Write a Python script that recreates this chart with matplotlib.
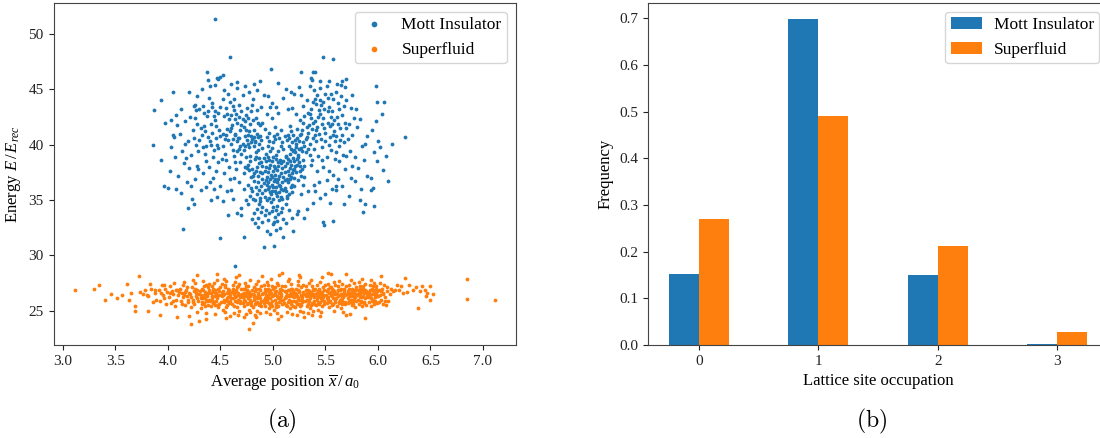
import matplotlib
matplotlib.use("Agg")
import matplotlib.pyplot as plt
import numpy as np

# ---------------- data ----------------
mott_points = [
    (4.45,51.4),(4.59,47.9),(4.98,46.85),(5.48,47.95),(5.57,47.7),(3.86,40.0),(3.87,43.1),(3.93,44.0),
    (3.93,38.6),(3.96,36.3),(4.0,36.1),(4.14,32.4),(4.19,34.3),(4.5,31.6),(4.72,31.65),(4.91,30.75),
    (5.01,30.85),(5.19,32.2),(5.1,31.7),(5.48,33.05),(5.49,32.7),(5.57,33.1),(5.86,33.9),(5.96,34.45),
    (6.26,40.7),(6.13,40.1),(6.1,36.7),(5.98,45.3),(5.99,43.9),(6.06,43.85),(6.04,42.8),(4.64,29.0),
    (4.37,46.6),(4.38,45.85),(4.4,45.3),(4.47,46.0),(4.5,46.1),(4.52,46.3),(4.48,45.9),(4.05,44.8),
    (4.03,42.2),(3.97,41.95),(4.05,40.9),(4.66,45.7),(4.66,45.15),(4.82,45.5),(4.85,44.9),(4.91,44.5),
    (5.12,45.05),(5.17,44.8),(5.27,46.6),(5.38,46.6),(5.4,46.6),(5.36,46.0),(5.37,45.85),(5.45,45.75),
    (5.53,45.8),(5.61,45.5),(5.7,45.9),(5.69,45.25),(5.65,45.4),(4.97,43.4),(5.03,43.45),(5.18,43.35),
    (4.25,43.5),(4.27,43.1),(4.33,43.5),(4.42,43.4),
    # core stem
    (4.85,34.2),(4.92,33.6),(4.98,34.8),(5.04,34.5),(5.08,33.9),(4.88,34.9),(5.12,34.6),(4.95,33.2),
    (5.02,33.5),(4.82,33.8),(5.06,35.0),(4.9,34.4),(5.15,34.1),(4.99,34.0),(5.1,33.3),(4.86,33.4),
    (4.94,35.0),(5.03,34.1),
    (4.78,35.4),(4.84,36.2),(4.9,35.6),(4.93,36.8),(4.96,35.2),(4.99,36.4),(5.02,35.8),(5.05,36.9),
    (5.08,35.3),(5.11,36.1),(5.14,36.6),(5.18,35.7),(4.87,35.9),(4.91,36.5),(4.95,36.0),(4.98,35.5),
    (5.01,36.7),(5.04,35.4),(5.07,36.3),(5.1,35.9),(4.82,36.7),(4.88,35.2),(4.97,36.9),(5.0,35.1),
    (5.06,35.7),(5.13,35.4),(5.16,36.9),(4.76,36.4),(4.92,35.3),(5.03,36.2),(4.94,36.4),(5.09,36.6),
    (4.86,36.6),(5.2,36.3),(4.8,35.8),(4.99,35.8),
    (4.72,37.4),(4.76,38.2),(4.8,37.8),(4.83,38.7),(4.86,37.2),(4.89,38.4),(4.92,37.6),(4.95,38.9),
    (4.98,37.3),(5.01,38.1),(5.04,37.7),(5.07,38.6),(5.1,37.1),(5.13,38.3),(5.16,37.9),(5.19,38.8),
    (5.22,37.5),(5.25,38.4),(5.28,37.8),(4.74,38.9),(4.79,37.1),(4.85,38.0),(4.91,38.8),(4.97,38.2),
    (5.03,38.7),(5.09,37.9),(5.15,37.3),(5.21,38.1),(4.88,37.5),(4.94,37.1),(5.0,37.6),(5.06,37.2),
    (5.12,38.9),(5.18,37.4),(5.24,38.9),(4.82,37.4),(4.9,38.1),(4.96,37.9),(5.02,37.3),(5.08,38.3),
    (5.14,37.6),(5.2,38.5),(4.77,37.7),(4.93,38.5),(5.05,38.4),(5.17,38.2),(5.27,37.2),(4.84,38.9),
    (4.99,38.5),(5.11,37.5),
    (4.62,39.5),(4.66,40.3),(4.7,39.2),(4.73,40.8),(4.77,39.8),(4.8,40.5),(4.84,39.3),(4.87,40.1),
    (4.9,39.7),(4.94,40.7),(4.97,39.4),(5.0,40.2),(5.03,39.1),(5.06,40.6),(5.1,39.6),(5.13,40.4),
    (5.16,39.2),(5.19,40.9),(5.22,39.8),(5.25,40.3),(5.28,39.4),(5.32,40.7),(4.64,40.9),(4.69,39.9),
    (4.75,40.4),(4.82,39.9),(4.88,40.8),(4.95,39.9),(5.01,40.8),(5.08,39.9),(5.14,40.9),(5.2,39.5),
    (5.26,40.9),(5.3,39.9),(5.18,40.2),(5.23,40.6),(4.78,39.0),(5.12,39.0),(5.24,39.1),
    (5.17,39.6),(5.21,39.3),(5.23,38.7),(5.19,37.7),(5.26,38.1),(5.15,40.6),(5.22,40.1),(5.27,39.7),
    (5.2,37.0),(5.18,36.4),(5.24,36.8),(5.13,36.9),
    (4.81,35.1),(4.87,34.6),(4.93,34.1),(4.96,33.8),(5.0,34.4),(5.05,33.7),(5.09,34.3),(5.13,35.2),
    (4.89,33.9),(5.01,33.0),(4.79,36.1),(4.85,35.5),(4.89,36.3),(4.92,35.9),(4.95,36.6),(4.97,35.7),
    (5.0,36.2),(5.03,35.6),(5.06,36.4),(5.09,35.1),(5.12,35.8),(5.15,35.5),(5.17,36.2),(4.83,35.0),
    (4.9,36.9),(5.04,36.6),(5.11,36.8),(4.96,36.2),(5.02,36.9),(5.08,36.0),
    (4.75,37.9),(4.78,38.5),(4.81,37.2),(4.84,37.6),(4.87,38.3),(4.9,37.4),(4.93,38.0),(4.96,38.6),
    (4.99,37.1),(5.02,37.9),(5.05,38.1),(5.08,37.4),(5.11,38.1),(5.14,38.7),(5.17,37.1),(5.2,37.8),
    (5.23,38.2),(5.26,37.6),(4.87,38.8),(5.0,38.9),(5.1,38.5),(4.95,37.5),(5.16,38.5),(5.29,38.6),
    (5.3,38.1),
    (4.68,40.6),(4.72,39.5),(4.76,40.1),(4.79,40.8),(4.83,40.3),(4.86,39.5),(4.89,40.4),(4.93,39.2),
    (4.96,40.3),(4.99,39.7),(5.02,40.5),(5.05,39.4),(5.09,40.2),(5.11,40.8),(5.15,39.9),(5.19,39.4),
    (5.21,40.4),(5.25,39.6),(5.29,40.2),(5.33,39.6),(4.71,40.1),(4.85,41.0),(5.04,41.0),(5.17,41.2),
    (5.27,41.0),
    # left upper lobe
    (4.22,39.1),(4.25,40.6),(4.28,41.9),(4.3,43.2),(4.33,39.8),(4.35,41.2),(4.37,42.6),(4.4,40.3),
    (4.42,43.8),(4.44,39.5),(4.46,41.7),(4.48,42.9),(4.5,40.8),(4.52,44.1),(4.54,39.2),(4.56,41.4),
    (4.58,42.3),(4.6,40.1),(4.62,43.5),(4.64,41.0),(4.66,42.0),(4.68,39.6),(4.7,43.0),(4.72,41.6),
    (4.74,42.7),(4.76,40.9),(4.78,41.9),(4.8,43.6),(4.82,41.3),(4.84,42.4),(4.86,40.7),(4.88,41.8),
    (4.27,40.0),(4.31,41.5),(4.34,42.9),(4.38,40.7),(4.41,41.9),(4.45,43.0),(4.47,40.0),(4.49,41.3),
    (4.53,42.6),(4.57,40.4),(4.59,43.9),(4.61,41.8),(4.63,39.0),(4.65,42.8),(4.67,40.6),(4.69,41.3),
    (4.71,42.3),(4.73,39.9),(4.75,43.3),(4.77,41.2),(4.79,40.2),(4.81,42.2),(4.83,40.2),(4.85,43.1),
    (4.9,42.0),(4.92,41.4),(4.94,42.8),(4.96,41.1),(4.99,42.4),(5.02,41.6),(5.05,42.9),(4.55,43.3),
    (4.51,38.7),(4.43,38.9),(4.36,38.5),(4.29,39.4),(4.24,41.3),(4.21,42.5),(4.26,43.6),(4.39,44.2),
    (4.57,44.6),(4.63,44.1),(4.71,44.5),(4.77,44.8),(4.68,43.6),(4.6,42.7),(4.52,41.0),(4.46,40.6),
    (4.32,40.9),(4.19,40.3),(4.17,38.8),(4.64,38.4),(4.58,38.0),(4.69,38.4),(4.73,38.0),
    (4.3,40.4),(4.34,41.7),(4.38,43.0),(4.42,41.1),(4.45,42.2),(4.48,39.7),(4.5,43.4),(4.54,40.5),
    (4.56,42.8),(4.59,41.2),(4.62,40.5),(4.64,42.3),(4.66,39.4),(4.7,41.8),(4.73,42.1),(4.76,42.4),
    (4.79,43.0),(4.82,40.7),(4.86,42.0),(4.89,43.4),(4.36,39.9),(4.44,42.6),(4.52,39.9),(4.6,41.5),
    (4.68,42.5),(4.74,41.3),(4.41,40.0),(4.55,40.9),(4.63,43.1),(4.26,42.4),
    # right upper lobe
    (5.28,41.3),(5.3,42.6),(5.32,44.0),(5.34,41.8),(5.36,43.2),(5.38,40.6),(5.4,42.1),(5.42,44.5),
    (5.44,41.0),(5.46,43.6),(5.48,42.4),(5.5,40.3),(5.52,44.2),(5.54,41.7),(5.56,43.0),(5.58,42.2),
    (5.6,40.8),(5.62,43.8),(5.64,41.5),(5.66,42.7),(5.68,40.2),(5.7,44.0),(5.72,41.9),(5.74,43.3),
    (5.31,39.3),(5.35,40.1),(5.39,39.6),(5.43,39.0),(5.47,39.8),(5.51,38.9),(5.55,39.5),(5.59,38.7),
    (5.63,39.9),(5.67,39.1),(5.71,40.5),(5.33,42.9),(5.37,41.4),(5.41,43.7),(5.45,42.8),(5.49,41.5),
    (5.53,43.4),(5.57,40.9),(5.61,42.5),(5.65,44.4),(5.69,42.0),(5.39,44.9),(5.45,45.1),(5.51,45.3),
    (5.35,45.3),(5.6,44.8),(5.29,43.5),(5.27,44.5),(5.4,40.9),(5.46,40.5),(5.52,42.0),(5.58,41.2),
    (5.64,40.4),(5.36,42.4),(5.42,41.6),(5.48,43.9),(5.54,40.7),(5.31,40.5),(5.37,38.6),(5.26,42.2),
    (5.75,40.9),(5.73,39.4),(5.77,42.4),(5.8,41.6),(5.79,43.2),
    (5.29,42.0),(5.33,41.1),(5.35,42.8),(5.38,43.9),(5.41,41.3),(5.43,42.5),(5.45,44.0),(5.47,41.9),
    (5.49,43.2),(5.5,41.1),(5.52,43.0),(5.55,42.5),(5.57,44.1),(5.59,40.3),(5.62,41.9),(5.35,39.1),
    (5.41,40.3),(5.47,38.6),(5.53,40.0),(5.6,39.3),(5.66,40.9),(5.7,41.5),(5.38,42.0),(5.44,43.1),
    (5.5,44.6),(5.32,41.6),(5.4,44.1),(5.56,41.9),(5.63,43.2),(5.68,43.5),
    # left middle
    (4.03,39.8),(4.07,38.9),(4.1,37.2),(4.12,35.6),(4.15,38.3),(4.18,36.6),(4.2,37.9),(4.23,35.1),
    (4.26,36.9),(4.28,38.1),(4.31,35.9),(4.33,37.4),(4.36,36.2),(4.39,38.0),(4.41,35.0),(4.43,37.0),
    (4.08,36.0),(4.13,39.4),(4.16,40.1),(4.22,36.3),(4.29,37.8),(4.35,39.2),(4.4,36.6),(4.06,40.7),
    (4.11,41.0),(4.02,37.6),(4.09,41.8),(4.25,34.6),(4.47,35.3),(4.46,37.6),(4.5,36.3),(4.53,37.4),
    (4.56,35.8),(4.59,36.9),(4.62,35.1),(4.65,37.8),(4.68,36.6),(4.7,34.3),(4.66,33.8),(4.63,37.0),
    (4.55,38.6),(4.48,38.4),(4.6,35.9),(4.72,36.0),(4.74,35.0),(4.52,34.9),(4.57,33.6),(4.44,36.0),
    # right middle
    (5.3,37.1),(5.33,35.8),(5.36,38.2),(5.39,36.4),(5.42,37.6),(5.45,35.2),(5.48,38.0),(5.51,36.8),
    (5.54,34.7),(5.57,37.3),(5.6,35.9),(5.63,38.5),(5.66,36.3),(5.69,37.8),(5.72,35.4),(5.75,38.1),
    (5.78,36.7),(5.81,37.9),(5.84,36.0),(5.87,38.6),(5.9,37.2),(5.93,35.9),(5.96,39.3),(5.99,38.5),
    (6.02,39.8),(6.05,37.7),(5.85,39.9),(5.9,40.8),(5.94,41.3),(6.0,40.3),(5.83,35.0),(5.88,34.6),
    (5.93,37.0),(5.95,36.1),(5.78,38.9),(5.7,39.0),(5.62,36.9),(5.5,35.5),(5.38,34.7),(5.32,34.2),
    (5.27,35.5),(5.29,36.4),(5.24,34.0),(5.3,33.4),(5.4,35.8),(5.56,36.0),(6.08,39.0),(5.98,42.1),
    (5.83,42.3),(5.88,40.1),(5.74,37.0),(5.68,34.6),(5.6,36.3),(5.53,37.6),(5.44,36.6),
    # bottom tail
    (4.86,32.6),(4.9,33.0),(4.94,32.2),(5.0,32.8),(5.04,33.1),(5.07,32.5),(5.12,32.9),(5.18,33.4),
    (4.83,32.9),(4.97,31.9),(5.03,32.3),(4.8,33.3),(5.23,33.7),(4.76,34.6),(4.7,33.6),
    # top scatter
    (4.2,44.8),(4.32,45.0),(4.45,45.4),(4.53,44.9),(4.6,45.5),(4.73,45.3),(4.88,45.8),(4.95,44.4),
    (5.05,45.6),(5.2,44.6),(5.25,45.2),(5.55,44.6),(5.66,45.8),(5.75,44.5),(4.81,44.1),(5.1,44.2),
    (4.99,43.8),(5.14,43.2),(5.22,42.8),(5.08,41.3),(5.16,41.7),(5.23,41.4),(4.28,44.4),(4.12,43.2),
    (4.16,42.1),(4.08,42.7),
]

superfluid_points = [
    (3.11,26.9),(3.3,27.0),(3.34,27.35),(3.4,25.95),(3.46,26.5),(3.51,26.1),(3.56,26.4),(3.61,27.4),
    (3.65,26.6),(3.69,25.4),(3.69,25.0),(3.72,28.1),(3.76,26.5),(3.78,26.9),(3.8,26.4),(3.73,26.7),
    (3.63,26.0),
    (3.81,24.95),(3.92,24.65),(4.09,24.4),(4.22,23.8),(4.3,24.05),(4.36,24.2),(4.77,23.3),(4.81,23.9),
    (5.88,24.3),(5.7,24.65),(5.45,24.5),(5.3,24.4),(5.05,24.2),(4.55,24.3),(4.2,24.5),
    (5.52,28.4),(5.7,28.35),(5.09,28.4),(4.28,28.25),(4.47,28.35),(4.68,28.2),(4.9,28.15),(5.25,28.2),
    (3.81,26.3),(3.84,27.0),(3.86,25.8),(3.88,26.6),(3.83,27.4),(3.89,26.0),
    (3.91,26.9),(3.92,25.9),(3.94,27.3),(3.95,26.4),(3.96,26.1),(3.97,27.0),(3.98,25.6),(3.99,26.7),
    (4.01,26.2),(4.02,27.2),(4.03,25.7),(4.04,26.8),(4.05,26.5),(4.06,27.5),(4.07,25.4),(4.08,26.0),
    (4.09,26.9),(4.1,26.4),
    (4.11,27.0),(4.12,25.9),(4.13,26.6),(4.14,26.2),(4.15,27.6),(4.16,25.5),(4.17,26.9),(4.18,26.3),
    (4.19,25.8),(4.14,27.3),(4.16,26.7),(4.19,26.0),
    (4.21,26.5),(4.22,25.3),(4.23,27.1),(4.24,26.0),(4.25,26.8),(4.25,25.6),(4.26,27.5),(4.27,26.3),
    (4.28,24.9),(4.28,26.9),(4.29,25.9),(4.22,26.2),(4.24,27.8),(4.27,26.6),
    (4.31,26.4),(4.31,25.2),(4.32,27.0),(4.33,26.1),(4.33,27.7),(4.34,25.7),(4.35,26.7),(4.35,26.2),
    (4.36,24.8),(4.36,27.3),(4.37,25.9),(4.37,26.5),(4.38,27.1),(4.38,25.5),(4.39,26.0),(4.39,26.9),
    (4.34,26.4),(4.32,25.8),
    (4.41,26.6),(4.41,25.4),(4.42,27.2),(4.42,26.0),(4.43,26.8),(4.43,25.7),(4.44,27.5),(4.44,26.3),
    (4.45,24.7),(4.45,26.9),(4.46,25.9),(4.46,26.5),(4.47,27.8),(4.47,26.1),(4.48,25.3),(4.48,27.0),
    (4.49,26.4),(4.49,25.6),(4.44,26.7),(4.42,26.2),
    (4.51,26.3),(4.51,27.4),(4.52,25.1),(4.52,26.8),(4.53,25.8),(4.53,26.5),(4.54,27.1),(4.54,24.9),
    (4.55,26.0),(4.55,27.7),(4.56,25.5),(4.56,26.6),(4.57,26.2),(4.57,27.0),(4.58,25.7),(4.58,26.9),
    (4.59,24.5),(4.59,26.4),(4.53,27.9),(4.56,26.1),
    (4.61,26.7),(4.61,25.6),(4.62,27.3),(4.62,26.1),(4.63,24.8),(4.63,26.5),(4.64,27.6),(4.64,25.9),
    (4.65,26.3),(4.65,26.9),(4.66,25.3),(4.66,27.1),(4.67,26.0),(4.67,26.6),(4.68,25.0),(4.68,27.4),
    (4.69,26.2),(4.69,25.7),(4.62,26.8),(4.65,28.0),(4.67,24.6),(4.69,26.4),
    (4.71,26.2),(4.71,27.0),(4.72,25.4),(4.72,26.6),(4.73,27.5),(4.73,25.9),(4.74,26.4),(4.74,24.7),
    (4.75,26.9),(4.75,25.6),(4.76,27.2),(4.76,26.1),(4.77,25.1),(4.77,26.7),(4.78,27.8),(4.78,26.0),
    (4.79,25.8),(4.79,26.5),(4.72,24.4),(4.75,26.3),(4.78,24.9),(4.73,27.0),
    (4.81,26.5),(4.81,25.3),(4.82,27.1),(4.82,26.0),(4.83,24.6),(4.83,26.8),(4.84,25.7),(4.84,27.4),
    (4.85,26.2),(4.85,25.0),(4.86,26.6),(4.86,27.7),(4.87,25.5),(4.87,26.3),(4.88,24.8),(4.88,26.9),
    (4.89,25.9),(4.89,27.2),(4.82,26.4),(4.85,25.8),(4.88,26.1),(4.84,24.4),
    (4.91,26.0),(4.91,27.3),(4.92,25.4),(4.92,26.7),(4.93,24.9),(4.93,26.4),(4.94,27.6),(4.94,25.8),
    (4.95,26.2),(4.95,27.0),(4.96,25.2),(4.96,26.5),(4.97,24.7),(4.97,26.9),(4.98,25.6),(4.98,27.9),
    (4.99,26.3),(4.99,25.9),(4.92,26.1),(4.95,26.8),(4.97,25.5),(4.99,27.2),
    (5.01,26.4),(5.01,25.1),(5.02,27.1),(5.02,26.0),(5.03,25.7),(5.03,26.8),(5.04,27.5),(5.04,24.8),
    (5.05,26.2),(5.05,25.4),(5.06,26.6),(5.06,28.2),(5.07,25.9),(5.07,27.0),(5.08,24.5),(5.08,26.3),
    (5.09,25.6),(5.09,26.9),(5.02,26.5),(5.05,27.3),(5.07,26.1),(5.03,25.3),
    (5.11,26.1),(5.11,27.2),(5.12,25.5),(5.12,26.7),(5.13,24.9),(5.13,26.4),(5.14,27.7),(5.14,25.8),
    (5.15,26.0),(5.15,26.9),(5.16,25.2),(5.16,26.5),(5.17,27.4),(5.17,25.6),(5.18,26.3),(5.18,24.7),
    (5.19,26.8),(5.19,25.9),(5.12,26.2),(5.15,27.9),(5.17,26.6),(5.19,25.4),
    (5.21,26.6),(5.21,25.3),(5.22,27.0),(5.22,25.9),(5.23,26.3),(5.23,24.6),(5.24,27.3),(5.24,26.1),
    (5.25,25.6),(5.25,26.8),(5.26,28.0),(5.26,25.0),(5.27,26.4),(5.27,27.1),(5.28,25.8),(5.28,26.2),
    (5.29,24.9),(5.29,26.7),(5.22,26.5),(5.25,26.0),(5.27,25.5),(5.24,27.7),
    (5.31,26.3),(5.31,27.2),(5.32,25.4),(5.32,26.6),(5.33,24.8),(5.33,26.9),(5.34,25.9),(5.34,27.5),
    (5.35,26.1),(5.35,25.2),(5.36,26.7),(5.36,27.8),(5.37,25.7),(5.37,26.4),(5.38,25.0),(5.38,27.0),
    (5.39,26.2),(5.39,25.6),(5.32,26.0),(5.35,26.5),(5.37,24.6),(5.39,26.9),
    (5.41,26.5),(5.41,25.5),(5.42,27.3),(5.42,26.0),(5.43,26.8),(5.43,25.1),(5.44,27.0),(5.44,26.3),
    (5.45,25.8),(5.45,27.6),(5.46,26.1),(5.46,24.9),(5.47,26.7),(5.47,25.4),(5.48,27.1),(5.48,26.4),
    (5.49,25.9),(5.49,26.9),(5.42,26.6),(5.45,26.2),(5.47,28.0),(5.44,25.6),
    (5.51,26.8),(5.51,25.7),(5.52,27.4),(5.52,26.2),(5.53,25.3),(5.53,26.6),(5.54,27.1),(5.54,25.9),
    (5.55,26.4),(5.55,28.3),(5.56,25.5),(5.56,27.0),(5.57,26.1),(5.57,26.9),(5.58,25.0),(5.58,27.6),
    (5.59,26.5),(5.59,25.8),(5.52,26.0),(5.55,26.7),(5.57,25.6),(5.59,27.3),
    (5.61,26.6),(5.61,25.4),(5.62,27.2),(5.62,26.3),(5.63,25.8),(5.63,27.7),(5.64,26.0),(5.64,26.9),
    (5.65,25.2),(5.65,26.5),(5.66,27.4),(5.66,25.9),(5.67,26.2),(5.67,24.9),(5.68,27.0),(5.68,26.7),
    (5.69,25.6),(5.69,26.4),(5.62,26.9),(5.66,26.1),
    (5.71,26.8),(5.71,25.7),(5.72,27.3),(5.72,26.3),(5.73,24.7),(5.73,26.6),(5.74,27.8),(5.74,26.0),
    (5.75,25.5),(5.75,27.0),(5.76,26.4),(5.76,25.9),(5.77,27.5),(5.77,26.7),(5.78,25.3),(5.78,26.2),
    (5.79,27.1),(5.79,26.5),(5.72,25.9),(5.76,26.9),
    (5.81,26.9),(5.81,26.0),(5.82,27.6),(5.82,25.6),(5.83,26.5),(5.83,27.2),(5.84,25.9),(5.84,26.7),
    (5.85,27.9),(5.85,25.4),(5.86,26.3),(5.86,27.0),(5.87,26.6),(5.87,25.7),(5.88,27.4),(5.88,26.1),
    (5.89,26.8),(5.89,25.5),(5.83,26.2),(5.86,26.9),
    (5.91,26.7),(5.91,25.8),(5.92,27.3),(5.92,26.2),(5.93,27.8),(5.93,25.4),(5.94,26.5),(5.94,27.0),
    (5.95,26.0),(5.95,26.9),(5.96,25.6),(5.96,27.5),(5.97,26.4),(5.97,25.9),(5.98,27.2),(5.98,26.6),
    (5.99,25.7),(5.99,26.3),
    (6.01,26.9),(6.01,25.8),(6.02,27.5),(6.02,26.4),(6.03,28.1),(6.03,26.0),(6.04,27.0),(6.05,25.6),
    (6.05,26.6),(6.06,27.3),(6.07,26.2),(6.08,25.5),(6.09,26.8),(6.1,25.9),
    (6.11,26.5),(6.12,27.0),(6.14,26.8),(6.16,26.9),(6.18,27.3),(6.2,26.9),(6.22,27.2),(6.24,26.6),
    (6.26,27.95),(6.28,26.7),(6.3,27.3),(6.33,26.9),(6.36,27.1),(6.38,25.25),(6.4,26.8),(6.42,27.2),
    (6.45,26.9),(6.46,26.3),(6.5,27.2),(6.5,26.0),(6.52,26.5),(6.47,26.6),
    (6.85,27.85),(6.85,26.05),(7.11,25.95),
    (4.305,26.8),(4.325,25.6),(4.345,27.2),(4.365,26.0),(4.385,26.6),(4.405,25.9),(4.425,27.0),(4.445,25.5),
    (4.465,26.3),(4.485,26.8),(4.505,25.8),(4.525,26.4),(4.545,27.3),(4.565,25.9),(4.585,26.6),(4.605,26.1),
    (4.625,25.4),(4.645,26.7),(4.665,27.2),(4.685,25.9),(4.705,26.5),(4.725,26.0),(4.745,27.2),(4.765,25.7),
    (4.785,26.3),(4.805,26.9),(4.825,25.6),(4.845,26.1),(4.865,27.0),(4.885,25.4),(4.905,26.6),(4.925,27.0),
    (4.945,26.0),(4.965,25.7),(4.985,26.6),(5.005,27.0),(5.025,25.6),(5.045,26.1),(5.065,26.8),(5.085,27.2),
    (5.105,25.7),(5.125,26.3),(5.145,26.9),(5.165,25.9),(5.185,27.0),(5.205,26.2),(5.225,25.6),(5.245,26.7),
    (5.265,26.3),(5.285,27.3),(5.305,25.9),(5.325,26.3),(5.345,26.8),(5.365,25.5),(5.385,26.5),(5.405,27.0),
    (5.425,25.7),(5.445,26.6),(5.465,26.0),(5.485,25.6),(5.505,26.4),(5.525,27.0),(5.545,25.8),(5.565,26.3),
    (5.585,26.8),(5.605,26.1),(5.625,25.7),(5.645,27.0),(5.665,26.5),(5.685,25.8),(5.705,26.5),(5.725,27.0),
    (5.745,26.3),(5.765,25.6),(5.785,26.9),(5.805,26.4),(5.825,27.0),(5.845,26.2),(5.865,25.8),(5.885,26.6),
    (5.905,26.2),(5.925,26.9),(5.945,25.9),(5.965,26.7),(5.985,27.0),(6.005,26.3),(6.025,26.8),(6.045,26.5),
    (6.065,25.9),(6.085,27.1),
    (4.315,26.1),(4.335,26.9),(4.355,25.4),(4.375,26.3),(4.395,27.4),(4.415,26.3),(4.435,25.8),(4.455,26.6),
    (4.475,25.5),(4.495,27.1),(4.515,26.6),(4.535,26.0),(4.555,25.3),(4.575,26.8),(4.595,25.9),(4.615,27.0),
    (4.635,26.2),(4.655,25.8),(4.675,26.4),(4.695,27.0),(4.715,25.7),(4.735,26.3),(4.755,26.7),(4.775,26.4),
    (4.795,25.5),(4.815,26.2),(4.835,27.0),(4.855,26.4),(4.875,25.7),(4.895,26.5),(4.915,25.7),(4.935,26.2),
    (4.955,27.3),(4.975,26.1),(4.995,25.4),(5.015,26.7),(5.035,26.3),(5.055,25.8),(5.075,26.5),(5.095,26.0),
    (5.115,26.8),(5.135,25.4),(5.155,26.3),(5.175,27.0),(5.195,26.5),(5.215,25.8),(5.235,26.9),(5.255,25.4),
    (5.275,26.0),(5.295,26.5),(5.315,26.9),(5.335,25.6),(5.355,26.4),(5.375,27.2),(5.395,25.9),(5.415,26.2),
    (5.435,26.9),(5.455,26.5),(5.475,26.2),(5.495,27.3),(5.515,26.1),(5.535,25.9),(5.555,27.1),(5.575,26.6),
    (5.595,26.0),(5.615,26.9),(5.635,26.4),(5.655,25.6),(5.675,26.9),(5.695,27.2),(5.715,26.1),(5.735,25.8),
    (5.755,26.7),(5.775,26.1),(5.795,25.9),(5.815,26.6),(5.835,25.8),(5.855,27.2),(5.875,26.9),(5.895,26.3),
    (5.915,26.5),(5.935,26.1),(5.955,27.2),(5.975,26.2),(5.995,26.8),(4.205,26.6),(4.235,25.8),(4.255,27.0),
    (4.275,26.1),(4.295,26.5),(4.105,26.7),(4.135,25.6),(4.155,26.4),(4.185,27.1),(4.015,26.6),(4.045,25.9),
    (4.075,26.9),(3.935,26.6),(3.965,27.3),(3.875,26.9),
]

occupation = [0, 1, 2, 3]
mott_freq = [0.152, 0.698, 0.150, 0.003]
superfluid_freq = [0.270, 0.490, 0.212, 0.028]

series_labels = ["Mott Insulator", "Superfluid"]
c_blue = "#1f77b4"
c_orange = "#ff7f0e"

# ---------------- style ----------------
plt.rcParams["font.family"] = ["Liberation Serif", "DejaVu Serif"]
plt.rcParams["mathtext.fontset"] = "custom"
plt.rcParams["mathtext.rm"] = "Liberation Serif"
plt.rcParams["mathtext.it"] = "Liberation Serif:italic"
plt.rcParams["font.size"] = 12

fig = plt.figure(figsize=(11, 4.38), dpi=100)
ax1 = fig.add_axes([53.5/1100, 93/438, 462/1100, 342/438])
ax2 = fig.add_axes([648/1100, 93/438, 460/1100, 342/438])

mx = np.array([p[0] for p in mott_points]); my = np.array([p[1] for p in mott_points])
sx = np.array([p[0] for p in superfluid_points]); sy = np.array([p[1] for p in superfluid_points])

ax1.scatter(mx, my, s=7.5, color=c_blue, label=series_labels[0], linewidths=0)
ax1.scatter(sx, sy, s=7.5, color=c_orange, label=series_labels[1], linewidths=0)
ax1.set_xticks([3.0, 3.5, 4.0, 4.5, 5.0, 5.5, 6.0, 6.5, 7.0])
ax1.set_yticks([25, 30, 35, 40, 45, 50])
ax1.set_xlabel(r"Average position $\overline{x}\,/\,a_0$", fontsize=12)
ax1.set_ylabel(r"Energy $E\,/\,E_{rec}$", fontsize=12)
ax1.legend(loc="upper right", markerscale=1.5, handlelength=1.6, handletextpad=0.8,
           borderpad=0.3, labelspacing=0.5, fontsize=12.5, borderaxespad=0.5)

x = np.array(occupation)
w = 0.25
ax2.bar(x - w/2, mott_freq, w, color=c_blue, label=series_labels[0])
ax2.bar(x + w/2, superfluid_freq, w, color=c_orange, label=series_labels[1])
ax2.set_xlim(-0.425, 3.425)
ax2.set_xticks(occupation)
ax2.set_yticks([0.0, 0.1, 0.2, 0.3, 0.4, 0.5, 0.6, 0.7])
ax2.set_xlabel("Lattice site occupation", fontsize=12)
ax2.set_ylabel("Frequency", fontsize=12)
ax2.legend(loc="upper right", fontsize=12.5, handlelength=1.8, handletextpad=0.7,
           borderpad=0.3, labelspacing=0.5, borderaxespad=0.5)

for ax in (ax1, ax2):
    for s in ax.spines.values():
        s.set_color("#444444")
    ax.tick_params(colors="#222222", labelsize=11)

fig.text(0.256, 0.037, r"$\mathrm{(a)}$", ha="center", va="center", fontsize=17, math_fontfamily="cm")
fig.text(0.792, 0.037, r"$\mathrm{(b)}$", ha="center", va="center", fontsize=17, math_fontfamily="cm")

fig.savefig("out.png", dpi=100)
